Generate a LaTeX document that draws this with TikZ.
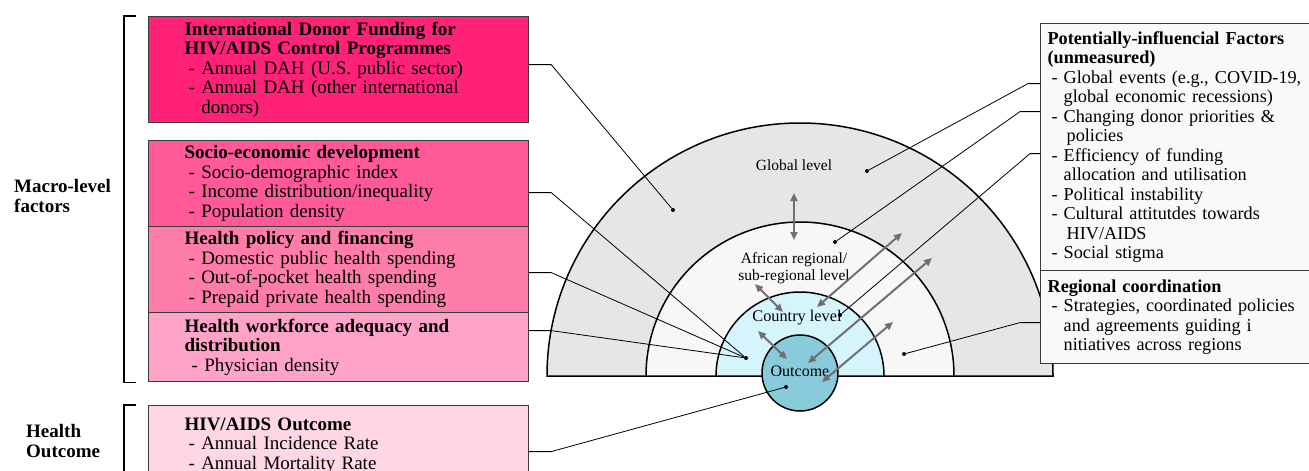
\documentclass[tikz,border=0pt]{standalone}
\usepackage{fontspec}
\setmainfont{Liberation Serif}
\usepackage{tikz}
\usetikzlibrary{arrows.meta}

\definecolor{donorpink}{HTML}{FF2277}
\definecolor{socpink}{HTML}{FF5A97}
\definecolor{polpink}{HTML}{FF7DAB}
\definecolor{workpink}{HTML}{FFA4C6}
\definecolor{outpink}{HTML}{FFD6E4}
\definecolor{globgray}{HTML}{E6E6E6}
\definecolor{regwhite}{HTML}{F7F7F7}
\definecolor{ctryblue}{HTML}{D6F4FC}
\definecolor{outblue}{HTML}{88CCDC}
\definecolor{arrowgray}{HTML}{707070}
\definecolor{boxline}{HTML}{3A3A3A}
\definecolor{notebox}{HTML}{F9F9F9}

\newcommand{\itm}{\hspace*{4pt}-\ }
\newcommand{\cnt}{\hspace*{4pt}\phantom{-}\ }

\tikzset{
  factor/.style={draw=boxline, line width=1.2pt, anchor=north west, align=left,
    text width=308pt, inner xsep=36pt, inner ysep=2pt,
    font=\fontsize{19}{19.5}\selectfont},
  note/.style={draw=boxline, fill=notebox, line width=1.2pt, anchor=north west, align=left,
    text width=300pt, inner xsep=7pt, inner ysep=2pt,
    font=\fontsize{18.2}{19.5}\selectfont},
  grouplabel/.style={anchor=west, align=left, inner sep=0pt, font=\fontsize{19}{20}\selectfont\bfseries},
  lvl/.style={inner sep=1pt},
  dot/.style={circle, fill=black, inner sep=0pt, minimum size=4pt},
  link/.style={line width=0.8pt},
  twoway/.style={arrowgray, line width=2pt, {Triangle[length=8pt,width=7pt]}-{Triangle[length=8pt,width=7pt]}},
  ring/.style={line width=1.5pt}
}

\begin{document}
\begin{tikzpicture}[x=1pt, y=-1pt]
    \useasboundingbox (0,0) rectangle (1309,471);

    % levels
    \filldraw[ring, fill=globgray] (547,376) arc[start angle=180, end angle=360, radius=253] -- cycle;
    \filldraw[ring, fill=regwhite] (646,376) arc[start angle=180, end angle=360, radius=154] -- cycle;
    \filldraw[ring, fill=ctryblue] (716,376) arc[start angle=180, end angle=360, radius=84] -- cycle;
    \node[ring, draw, fill=outblue, circle, minimum size=76pt, inner sep=0pt,
      font=\fontsize{16}{17}\selectfont] (outc) at (800,373) {\raisebox{3pt}{Outcome}};

    \node[lvl, font=\fontsize{15.5}{17}\selectfont] (glob) at (794,165) {Global level};
    \node[lvl, align=center, font=\fontsize{15.5}{16.5}\selectfont] (afr) at (794,268) {African regional/\\sub-regional level};
    \node[lvl, font=\fontsize{16.3}{17}\selectfont] (ctry) at (797,318) {Country level};

    % left boxes
    \node[factor, fill=donorpink, minimum height=106pt] (b1) at (148,16)
      {\textbf{International Donor Funding for}\\\textbf{HIV/AIDS Control Programmes}\\
       \itm Annual DAH (U.S. public sector)\\\itm Annual DAH (other international\\\cnt donors)};
    \node[factor, fill=socpink, minimum height=86pt] (b2) at (148,140)
      {\textbf{Socio-economic development}\\\itm Socio-demographic index\\
       \itm Income distribution/inequality\\\itm Population density};
    \node[factor, fill=polpink, minimum height=86pt] (b3) at (148,226)
      {\textbf{Health policy and financing}\\\itm Domestic public health spending\\
       \itm Out-of-pocket health spending\\\itm Prepaid private health spending};
    \node[factor, fill=workpink, minimum height=69pt] (b4) at (148,312)
      {\textbf{Health workforce adequacy and}\\\textbf{distribution}\\\hspace*{3pt}\itm Physician density};
    \node[factor, fill=outpink, minimum height=80pt] (b5) at (148,405)
      {\textbf{HIV/AIDS Outcome}\\\itm Annual Incidence Rate\\\itm Annual Mortality Rate};

    \node[grouplabel] (macro) at (14,196) {Macro-level\\factors};
    \node[grouplabel] (hout) at (26,441) {Health\\Outcome};
    \draw[line width=1.2pt] ([xshift=-12pt]b1.north west) -- ++(-12,0) |- ([xshift=-12pt]b4.south west);
    \draw[line width=1.2pt] ([xshift=-12pt]b5.north west) -- ++(-12,0) -- ++(0,80);

    % right boxes
    \node[note, minimum height=247pt] (rb1) at (1040,23)
      {\textbf{Potentially-influencial Factors}\\\textbf{(unmeasured)}\\
       \itm Global events (e.g., COVID-19,\\\cnt global economic recessions)\\
       \itm Changing donor priorities \&\\\cnt\hspace*{3pt}policies\\
       \itm Efficiency of funding\\\cnt allocation and utilisation\\
       \itm Political instability\\
       \itm Cultural attitutdes towards\\\cnt\hspace*{3pt}HIV/AIDS\\
       \itm Social stigma};
    \node[note, minimum height=93pt] (rb2) at (1040,270)
      {\textbf{Regional coordination}\\\itm Strategies, coordinated policies\\
       \cnt and agreements guiding i\\\cnt nitiatives across regions};

    % dots
    \node[dot] (dGlobL) at (673,210) {};
    \node[dot] (dCtry) at (746,358) {};
    \node[dot] (dOut) at (786,387) {};
    \node[dot] (dGlobR) at (867,171) {};
    \node[dot] (dReg) at (835,242) {};
    \node[dot] (dCtryR) at (840,315) {};
    \node[dot] (dRegR) at (904,354) {};

    % connectors
    \draw[link] ([yshift=5pt]b1.east) -- ++(22,0) -- (dGlobL);
    \draw[link] ([yshift=-9pt]b2.east) -- ++(22,0) -- (dCtry);
    \draw[link] ([yshift=-3pt]b3.east) -- ++(22,0) -- (dCtry);
    \draw[link] ([yshift=16.5pt]b4.east) -- ++(22,0) -- (dCtry);
    \draw[link] ([yshift=-6pt]b5.east) -- ++(22,0) -- (dOut);
    \draw[link] ([yshift=63.5pt]rb1.west) -- ++(-12,0) -- (dGlobR);
    \draw[link] ([yshift=35.5pt]rb1.west) -- ++(-20,0) -- (dReg);
    \draw[link] ([yshift=-6.5pt]rb1.west) -- ++(-10,0) -- (dCtryR);
    \draw[link] ([yshift=-5.5pt]rb2.west) -- ++(-20,0) -- (dRegR);

    % interactions between levels
    \foreach \a/\b in {{794,193}/{794,240}, {755,284}/{783,312}, {758,331}/{787,359},
                       {817,307}/{902,233}, {808,363}/{932,258}, {822,382}/{893,322}}
      \draw[twoway] (\a) -- (\b);
\end{tikzpicture}
\end{document}
